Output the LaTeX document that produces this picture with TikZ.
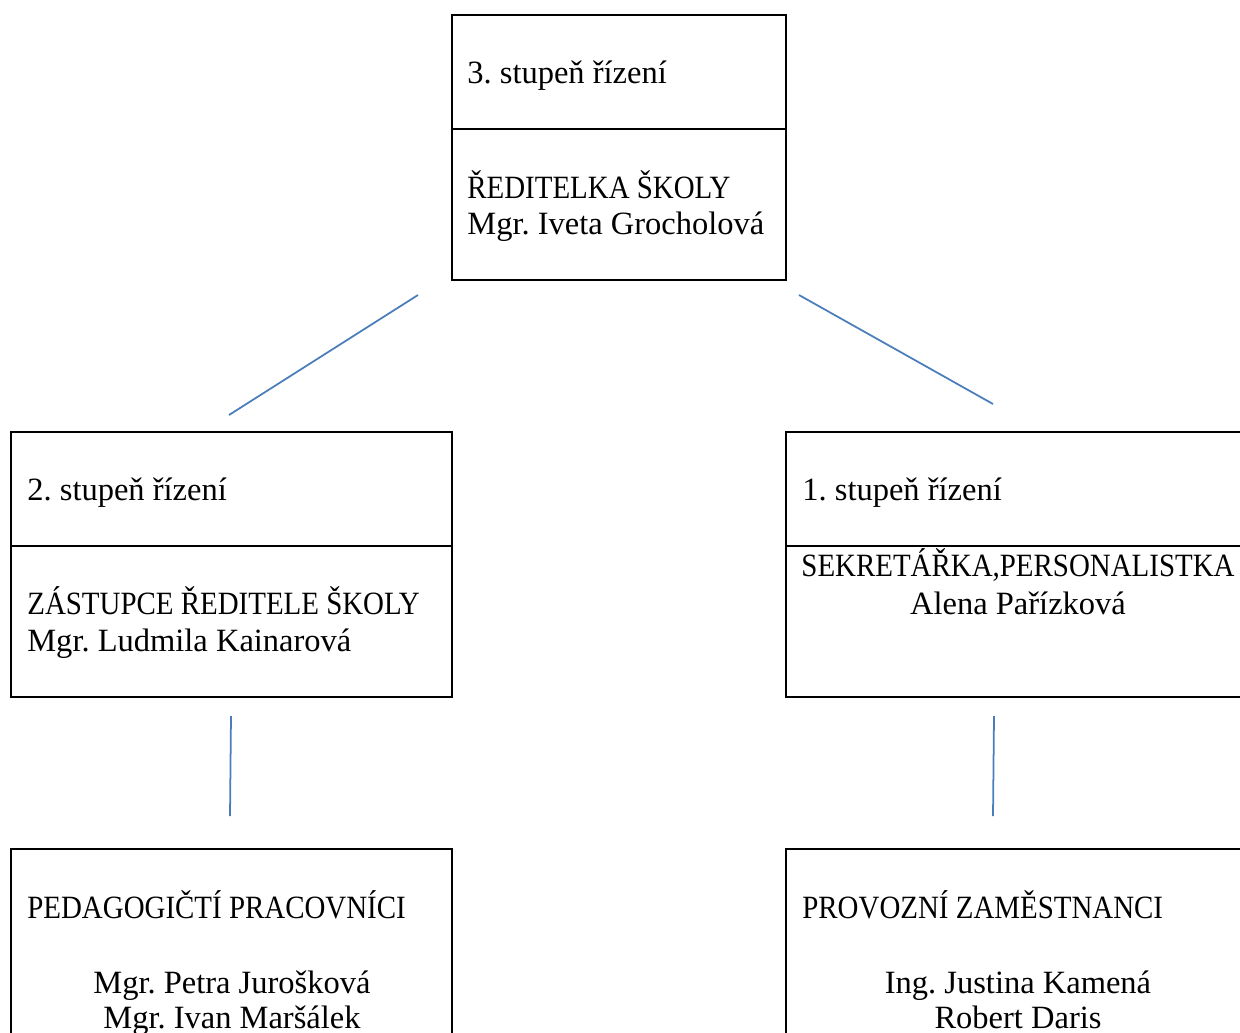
\documentclass[tikz,border=0pt]{standalone}
\usepackage{fontspec}
\setmainfont{Liberation Serif}
\newfontfamily\capsfont[FakeStretch=0.89]{Liberation Serif}
\usetikzlibrary{positioning}
\definecolor{colorline}{RGB}{74,126,187}
\definecolor{colortext}{RGB}{0,0,0}
\frenchspacing

\begin{document}
\begin{tikzpicture}[
    x=0.02cm, y=-0.02cm,
    font={\fontsize{18.5}{20.5}\selectfont},
    box/.style={draw=colortext,line width=1.1pt,rectangle,inner sep=0pt},
    txt/.style={text=colortext,inner sep=0pt,anchor=base west},
    mid/.style={txt,anchor=base},
    caps/.style={font={\fontsize{18.5}{20.5}\capsfont}},
    link/.style={draw=colorline,line width=1pt},
]
    \useasboundingbox (0,0) rectangle (1240,1032);

    % boxes
    \node[box,minimum width=6.68cm,minimum height=5.3cm] (director) at (619,147.5) {};
    \node[box,minimum width=8.82cm,minimum height=5.3cm] (deputy)   at (231.5,564.5) {};
    \node[box,minimum width=9.28cm,minimum height=5.3cm] (secretary) at (1018,564.5) {};
    \node[box,minimum width=8.82cm,minimum height=5.02cm] (teachers) at (231.5,974.5) {};
    \node[box,minimum width=9.28cm,minimum height=5.02cm] (staff)    at (1018,974.5) {};

    \draw[line width=1.1pt] (452,129) -- (786,129);
    \draw[line width=1.1pt] (11,546) -- (452,546);
    \draw[line width=1.1pt] (786,546) -- (1250,546);

    % texts
    \node[txt] (lvl3) at (467,83) {3. stupeň řízení};
    \node[txt,caps] (dirtitle) at (467,198) {ŘEDITELKA ŠKOLY};
    \node[txt] (dirname) at (467,234) {Mgr. Iveta Grocholová};

    \node[txt] (lvl2) at (27,500) {2. stupeň řízení};
    \node[txt,caps] (deptitle) at (27,614) {ZÁSTUPCE ŘEDITELE ŠKOLY};
    \node[txt] (depname) at (27,651) {Mgr. Ludmila Kainarová};

    \node[txt] (lvl1) at (802,500) {1. stupeň řízení};
    \node[mid,caps] (sectitle) at (1018,576) {SEKRETÁŘKA,PERSONALISTKA};
    \node[mid] (secname) at (1018,614) {Alena Pařízková};

    \node[txt,caps] (teatitle) at (27,918) {PEDAGOGIČTÍ PRACOVNÍCI};
    \node[mid] (teaname1) at (232,993) {Mgr. Petra Jurošková};
    \node[mid] (teaname2) at (232,1028) {Mgr. Ivan Maršálek};

    \node[txt,caps] (stftitle) at (802,918) {PROVOZNÍ ZAMĚSTNANCI};
    \node[mid] (stfname1) at (1018,993) {Ing. Justina Kamená};
    \node[mid] (stfname2) at (1018,1028) {Robert Daris};

    % connectors
    \coordinate (dirL) at (418,295);
    \coordinate (depT) at (229,415);
    \coordinate (dirR) at (799,295);
    \coordinate (secT) at (993,404);
    \coordinate (depB) at (231,716);
    \coordinate (teaT) at (230,816);
    \coordinate (secB) at (994,716);
    \coordinate (stfT) at (993,816);

    \draw[link] (dirL) -- (depT);
    \draw[link] (dirR) -- (secT);
    \draw[link] (depB) -- (teaT);
    \draw[link] (secB) -- (stfT);
\end{tikzpicture}
\end{document}
